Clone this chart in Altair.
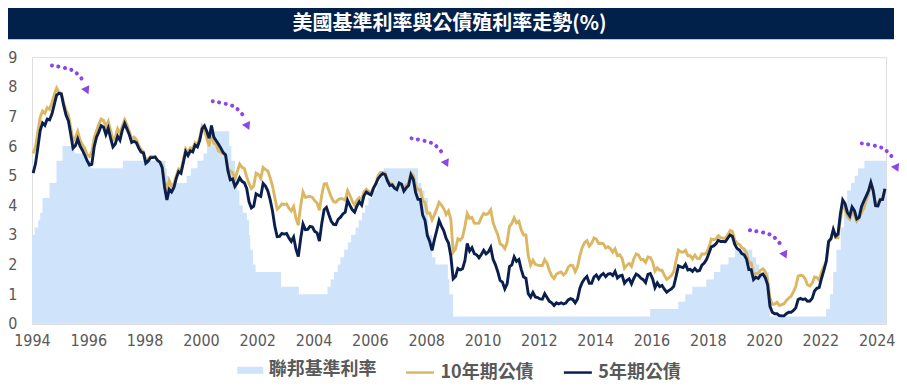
import altair as alt
import pandas as pd

TITLE = "美國基準利率與公債殖利率走勢(%)"
SERIES = ["聯邦基準利率", "10年期公債", "5年期公債"]
START_YEAR = 1994

# 10-year Treasury yield, monthly, Jan 1994 - Apr 2024
T10 = [
    5.75, 5.97, 6.48, 6.97, 7.18, 7.10, 7.30, 7.24, 7.46, 7.74, 7.96, 7.81,
    7.78, 7.47, 7.20, 7.06, 6.63, 6.17, 6.28, 6.49, 6.20, 6.04, 5.93, 5.71,
    5.65, 5.81, 6.27, 6.51, 6.74, 6.91, 6.87, 6.64, 6.83, 6.53, 6.20, 6.30,
    6.58, 6.42, 6.69, 6.89, 6.71, 6.49, 6.22, 6.30, 6.21, 6.03, 5.88, 5.81,
    5.54, 5.57, 5.65, 5.64, 5.65, 5.50, 5.46, 5.34, 4.81, 4.53, 4.83, 4.65,
    4.72, 5.00, 5.23, 5.18, 5.54, 5.90, 5.79, 5.94, 5.92, 6.11, 6.03, 6.28,
    6.66, 6.52, 6.26, 5.99, 6.44, 6.10, 6.05, 5.83, 5.80, 5.74, 5.72, 5.24,
    5.16, 5.10, 4.89, 5.14, 5.39, 5.28, 5.24, 4.97, 4.73, 4.57, 4.65, 5.09,
    5.04, 4.91, 5.28, 5.21, 5.16, 4.93, 4.65, 4.26, 3.87, 3.94, 4.05, 4.03,
    4.05, 3.90, 3.81, 3.96, 3.57, 3.33, 3.98, 4.45, 4.27, 4.29, 4.30, 4.27,
    4.15, 4.08, 3.83, 4.35, 4.72, 4.73, 4.50, 4.28, 4.13, 4.10, 4.19, 4.23,
    4.22, 4.17, 4.50, 4.34, 4.14, 4.00, 4.18, 4.26, 4.20, 4.46, 4.54, 4.47,
    4.42, 4.57, 4.72, 4.99, 5.11, 5.11, 5.09, 4.88, 4.72, 4.73, 4.60, 4.56,
    4.76, 4.72, 4.56, 4.69, 4.75, 5.10, 5.00, 4.67, 4.52, 4.53, 4.15, 4.10,
    3.74, 3.74, 3.51, 3.68, 3.88, 4.10, 4.01, 3.89, 3.69, 3.81, 3.53, 2.42,
    2.52, 2.87, 2.82, 2.93, 3.29, 3.72, 3.56, 3.59, 3.40, 3.39, 3.40, 3.59,
    3.73, 3.69, 3.73, 3.85, 3.42, 3.20, 3.01, 2.70, 2.65, 2.54, 2.76, 3.29,
    3.39, 3.58, 3.41, 3.46, 3.17, 3.00, 3.00, 2.30, 1.98, 2.15, 2.01, 1.98,
    1.97, 1.97, 2.17, 2.05, 1.80, 1.62, 1.53, 1.68, 1.72, 1.75, 1.65, 1.72,
    1.91, 1.98, 1.96, 1.76, 1.93, 2.30, 2.58, 2.74, 2.81, 2.62, 2.72, 2.90,
    2.86, 2.71, 2.72, 2.71, 2.56, 2.60, 2.54, 2.42, 2.53, 2.30, 2.33, 2.21,
    1.88, 1.98, 2.04, 1.94, 2.20, 2.36, 2.32, 2.17, 2.17, 2.07, 2.26, 2.24,
    2.09, 1.78, 1.89, 1.81, 1.81, 1.64, 1.50, 1.56, 1.63, 1.76, 2.14, 2.49,
    2.43, 2.42, 2.48, 2.30, 2.30, 2.19, 2.32, 2.21, 2.20, 2.36, 2.35, 2.40,
    2.58, 2.86, 2.84, 2.87, 2.98, 2.91, 2.89, 2.89, 3.00, 3.15, 3.12, 2.83,
    2.71, 2.68, 2.57, 2.53, 2.40, 2.07, 2.06, 1.63, 1.70, 1.71, 1.81, 1.86,
    1.76, 1.50, 0.87, 0.66, 0.67, 0.73, 0.62, 0.65, 0.68, 0.79, 0.87, 0.93,
    1.08, 1.26, 1.61, 1.64, 1.62, 1.52, 1.32, 1.28, 1.37, 1.58, 1.56, 1.47,
    1.76, 1.93, 2.13, 2.75, 2.90, 3.14, 2.90, 2.90, 3.52, 3.98, 3.89, 3.62,
    3.53, 3.75, 3.66, 3.46, 3.57, 3.75, 3.90, 4.17, 4.38, 4.80, 4.50, 4.02,
    4.06, 4.21, 4.21, 4.54,
]

# 5-year Treasury yield, monthly, Jan 1994 - Apr 2024
T5 = [
    5.09, 5.40, 5.94, 6.52, 6.78, 6.70, 6.91, 6.88, 7.08, 7.40, 7.72, 7.78,
    7.76, 7.37, 7.05, 6.86, 6.41, 5.93, 6.01, 6.24, 6.00, 5.86, 5.69, 5.51,
    5.36, 5.38, 5.97, 6.30, 6.48, 6.69, 6.64, 6.39, 6.60, 6.27, 5.97, 6.07,
    6.33, 6.20, 6.54, 6.76, 6.57, 6.38, 6.12, 6.16, 6.11, 5.93, 5.80, 5.77,
    5.42, 5.49, 5.61, 5.61, 5.63, 5.52, 5.46, 5.27, 4.62, 4.18, 4.54, 4.45,
    4.60, 4.91, 5.14, 5.08, 5.44, 5.81, 5.68, 5.84, 5.80, 6.03, 5.97, 6.19,
    6.58, 6.68, 6.50, 6.26, 6.69, 6.30, 6.18, 6.06, 5.93, 5.78, 5.70, 5.17,
    4.86, 4.89, 4.64, 4.76, 4.93, 4.81, 4.76, 4.57, 4.12, 3.91, 3.97, 4.39,
    4.34, 4.30, 4.74, 4.65, 4.49, 4.19, 3.81, 3.29, 2.94, 2.95, 3.05, 3.03,
    3.05, 2.90, 2.78, 2.93, 2.52, 2.27, 2.87, 3.37, 3.18, 3.19, 3.29, 3.27,
    3.12, 3.07, 2.79, 3.39, 3.85, 3.93, 3.69, 3.47, 3.36, 3.35, 3.53, 3.60,
    3.71, 3.77, 4.17, 4.00, 3.85, 3.77, 3.98, 4.12, 4.01, 4.33, 4.45, 4.39,
    4.35, 4.57, 4.72, 4.90, 5.00, 5.07, 5.04, 4.82, 4.67, 4.69, 4.58, 4.53,
    4.75, 4.71, 4.48, 4.59, 4.67, 5.03, 4.88, 4.43, 4.20, 4.20, 3.67, 3.49,
    2.98, 2.78, 2.48, 2.84, 3.15, 3.49, 3.30, 3.14, 2.88, 2.73, 2.29, 1.52,
    1.60, 1.87, 1.82, 1.86, 2.13, 2.71, 2.46, 2.57, 2.37, 2.33, 2.23, 2.34,
    2.48, 2.36, 2.43, 2.58, 2.18, 2.00, 1.76, 1.47, 1.41, 1.18, 1.35, 1.93,
    1.99, 2.26, 2.11, 2.17, 1.84, 1.58, 1.54, 1.02, 0.90, 1.06, 0.91, 0.89,
    0.84, 0.83, 1.02, 0.89, 0.76, 0.71, 0.62, 0.71, 0.67, 0.71, 0.67, 0.70,
    0.81, 0.85, 0.82, 0.71, 0.84, 1.20, 1.40, 1.52, 1.60, 1.37, 1.37, 1.58,
    1.65, 1.52, 1.64, 1.70, 1.59, 1.68, 1.70, 1.63, 1.77, 1.55, 1.62, 1.64,
    1.37, 1.47, 1.52, 1.35, 1.54, 1.68, 1.63, 1.54, 1.49, 1.39, 1.67, 1.70,
    1.52, 1.22, 1.38, 1.26, 1.30, 1.17, 1.07, 1.13, 1.18, 1.27, 1.60, 1.96,
    1.92, 1.90, 2.01, 1.82, 1.84, 1.77, 1.87, 1.78, 1.80, 1.98, 2.05, 2.18,
    2.38, 2.60, 2.63, 2.70, 2.82, 2.78, 2.78, 2.77, 2.89, 3.00, 2.95, 2.68,
    2.54, 2.49, 2.37, 2.33, 2.19, 1.83, 1.83, 1.49, 1.57, 1.53, 1.64, 1.68,
    1.56, 1.32, 0.59, 0.39, 0.34, 0.34, 0.28, 0.27, 0.27, 0.34, 0.39, 0.39,
    0.45, 0.54, 0.82, 0.86, 0.82, 0.84, 0.76, 0.77, 0.86, 1.11, 1.20, 1.23,
    1.54, 1.81, 2.11, 2.78, 2.87, 3.19, 2.96, 3.03, 3.70, 4.18, 4.06, 3.76,
    3.64, 3.94, 3.82, 3.54, 3.59, 3.95, 4.14, 4.31, 4.49, 4.77, 4.49, 3.99,
    3.98, 4.19, 4.20, 4.56,
]

# Fed funds target rate (upper bound) changes
FED_DATES = [
    "1994-01-01", "1994-02-04", "1994-03-22", "1994-04-18", "1994-05-17", "1994-08-16",
    "1994-11-15", "1995-02-01", "1995-07-06", "1995-12-19", "1996-01-31", "1997-03-25",
    "1998-09-29", "1998-10-15", "1998-11-17", "1999-06-30", "1999-08-24", "1999-11-16",
    "2000-02-02", "2000-03-21", "2000-05-16", "2001-01-03", "2001-01-31", "2001-03-20",
    "2001-04-18", "2001-05-15", "2001-06-27", "2001-08-21", "2001-09-17", "2001-10-02",
    "2001-11-06", "2001-12-11", "2002-11-06", "2003-06-25", "2004-06-30", "2004-08-10",
    "2004-09-21", "2004-11-10", "2004-12-14", "2005-02-02", "2005-03-22", "2005-05-03",
    "2005-06-30", "2005-08-09", "2005-09-20", "2005-11-01", "2005-12-13", "2006-01-31",
    "2006-03-28", "2006-05-10", "2006-06-29", "2007-09-18", "2007-10-31", "2007-12-11",
    "2008-01-22", "2008-01-30", "2008-03-18", "2008-04-30", "2008-10-08", "2008-10-29",
    "2008-12-16", "2015-12-16", "2016-12-14", "2017-03-15", "2017-06-14", "2017-12-13",
    "2018-03-21", "2018-06-13", "2018-09-26", "2018-12-19", "2019-07-31", "2019-09-18",
    "2019-10-30", "2020-03-03", "2020-03-15", "2022-03-16", "2022-05-04", "2022-06-15",
    "2022-07-27", "2022-09-21", "2022-11-02", "2022-12-14", "2023-02-01", "2023-03-22",
    "2023-05-03", "2023-07-26", "2024-05-01",
]
FED_RATES = [
    3.00, 3.25, 3.50, 3.75, 4.25, 4.75,
    5.50, 6.00, 5.75, 5.50, 5.25, 5.50,
    5.25, 5.00, 4.75, 5.00, 5.25, 5.50,
    5.75, 6.00, 6.50, 6.00, 5.50, 5.00,
    4.50, 4.00, 3.75, 3.50, 3.00, 2.50,
    2.00, 1.75, 1.25, 1.00, 1.25, 1.50,
    1.75, 2.00, 2.25, 2.50, 2.75, 3.00,
    3.25, 3.50, 3.75, 4.00, 4.25, 4.50,
    4.75, 5.00, 5.25, 4.75, 4.50, 4.25,
    3.50, 3.00, 2.25, 2.00, 1.50, 1.00,
    0.25, 0.50, 0.75, 1.00, 1.25, 1.50,
    1.75, 2.00, 2.25, 2.50, 2.25, 2.00,
    1.75, 1.25, 0.25, 0.50, 1.00, 1.75,
    2.50, 3.25, 4.00, 4.50, 4.75, 5.00,
    5.25, 5.50, 5.50,
]

X_TICKS = list(range(1994, 2025, 2))
Y_TICKS = list(range(0, 10))

# Dotted "turn" arrows (annotation anchor points in data units: start, middle, end, head)
ARROW_X = [
    [1994.71, 1995.45, 1995.84],
    [2000.42, 2001.16, 2001.55],
    [2007.48, 2008.22, 2008.61],
    [2019.50, 2020.24, 2020.63],
    [2023.47, 2024.21, 2024.60],
]
ARROW_Y = [
    [8.72, 8.55, 8.18],
    [7.51, 7.34, 6.97],
    [6.26, 6.09, 5.72],
    [3.16, 3.00, 2.63],
    [6.09, 5.93, 5.56],
]
HEAD_X = [1995.93, 2001.64, 2008.70, 2020.72, 2024.69]
HEAD_Y = [7.91, 6.70, 5.45, 2.36, 5.29]

BLUE = "#cfe3fb"
GOLD = "#dcb763"
NAVY = "#0b1f4f"
BAR = "#02214a"
PURPLE = "#8c45e6"
NARROW = "Liberation Sans Narrow, Arial Narrow, DejaVu Sans Condensed, sans-serif"
CJK = "Noto Sans CJK TC, Noto Sans CJK SC, sans-serif"

# ---------- data frames ----------
n = len(T10)
years = [START_YEAR + (i + 0.5) / 12 for i in range(n)]
bond_df = pd.DataFrame({
    "year": years * 2,
    "val": T10 + T5,
    "series": [SERIES[1]] * n + [SERIES[2]] * n,
})
fd = pd.to_datetime(pd.Series(FED_DATES))
fed_df = pd.DataFrame({
    "year": fd.dt.year + (fd.dt.dayofyear - 1) / 365.25,
    "val": FED_RATES,
    "series": SERIES[0],
})
arrow_rows = []
for k, (xs, ys) in enumerate(zip(ARROW_X, ARROW_Y)):
    for j, (xv, yv) in enumerate(zip(xs, ys)):
        arrow_rows.append({"arrow": k, "order": j, "year": xv, "val": yv})
arrow_df = pd.DataFrame(arrow_rows)
head_df = pd.DataFrame({"year": HEAD_X, "val": HEAD_Y})
title_df = pd.DataFrame({"t": [TITLE]})

W, H = 855, 267
x_scale = alt.Scale(domain=[1994, 2024.33], nice=False, zero=False)
y_scale = alt.Scale(domain=[0, 9], nice=False, zero=True)
x_axis = alt.Axis(values=X_TICKS, format="d", title=None, grid=False, ticks=False,
                  domain=True, domainColor="#d9d9d9", domainWidth=1,
                  labelPadding=9, labelFlush=False, labelFont=NARROW,
                  labelFontSize=16, labelColor="#595959")
y_axis = alt.Axis(values=Y_TICKS, title=None, grid=False, ticks=False, domain=False,
                  labelPadding=15, labelFont=NARROW, labelFontSize=16,
                  labelColor="#595959")
X = alt.X("year:Q", scale=x_scale, axis=x_axis)
Y = alt.Y("val:Q", scale=y_scale, axis=y_axis)

legend_common = dict(orient="none", direction="horizontal", title=None,
                     labelFont=CJK, labelFontSize=18, labelFontWeight="bold",
                     labelColor="#595959", labelOffset=5, columnPadding=24,
                     labelLimit=300, legendY=300)

area = alt.Chart(fed_df).mark_area(interpolate="step-after", opacity=1).encode(
    x=X, y=Y,
    fill=alt.Fill("series:N", scale=alt.Scale(domain=[SERIES[0]], range=[BLUE]),
                  legend=alt.Legend(symbolType="M-1,-0.27H1V0.27H-1Z", symbolSize=680,
                                    symbolStrokeWidth=0, legendX=205, **legend_common)),
)

stroke_enc = alt.Stroke("series:N",
                        scale=alt.Scale(domain=[SERIES[1], SERIES[2]], range=[GOLD, NAVY]),
                        legend=alt.Legend(symbolType="stroke", symbolSize=784,
                                          symbolStrokeWidth=2.5, legendX=373,
                                          **legend_common))

line10 = alt.Chart(bond_df).transform_filter(
    alt.datum.series == SERIES[1]
).mark_line(strokeWidth=2.9).encode(x=X, y=Y, stroke=stroke_enc)

line5 = alt.Chart(bond_df).transform_filter(
    alt.datum.series == SERIES[2]
).mark_line(strokeWidth=2.9).encode(x=X, y=Y, stroke=stroke_enc)

arrows = alt.Chart(arrow_df).mark_line(
    color=PURPLE, strokeWidth=4, strokeDash=[0.1, 6.5], strokeCap="round",
    interpolate="cardinal"
).encode(x=X, y=Y, detail="arrow:N", order="order:Q")

heads = alt.Chart(head_df).mark_point(
    shape="triangle", filled=True, color=PURPLE, opacity=1, size=80, angle=155
).encode(x=X, y=Y)

title_bar = alt.Chart(title_df).mark_rect(color=BAR).encode(
    x=alt.value(-29), x2=alt.value(863), y=alt.value(-60), y2=alt.value(-18)
)
title_text = alt.Chart(title_df).mark_text(
    color="white", font=CJK, fontSize=20, fontWeight="bold", align="center",
    baseline="middle"
).encode(text="t:N", x=alt.value(418), y=alt.value(-33))

chart = alt.layer(
    title_bar, title_text, area, line10, line5, arrows, heads
).properties(
    width=W, height=H, autosize="none",
    padding={"left": 24, "top": 49, "right": 13, "bottom": 60},
).configure_view(stroke=None).configure(background="white")

chart.save("out.html", embed_options={"renderer": "svg", "actions": False})
